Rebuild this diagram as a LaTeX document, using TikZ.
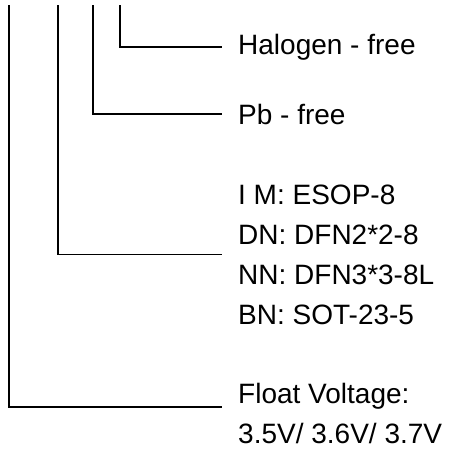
\documentclass[tikz,border=0pt]{standalone}
\usepackage{fontspec}
\setmainfont{Liberation Sans}
\usepackage{tikz}
\usetikzlibrary{positioning}

\tikzset{
    lead/.style={line width=1.6pt, shorten >=16pt},
    label/.style={anchor=base west, inner sep=0pt, align=left, font=\fontsize{28}{40}\selectfont}
}

\begin{document}
\begin{tikzpicture}[x=1pt, y=-1pt]
                        \useasboundingbox (0, 0) rectangle (454, 450);
                        \coordinate (t1) at (9, 5);
                        \coordinate (t2) at (58, 5);
                        \coordinate (t3) at (93, 5);
                        \coordinate (t4) at (120, 5);
                        \node[label] (halogen) at (238, 54) {Halogen - free};
                        \node[label] (pbfree) at (238, 124) {Pb - free};
                        \node[label] (pkg) at (238, 324) {I M: ESOP-8\\DN: DFN2*2-8\\NN: DFN3*3-8L\\BN: SOT-23-5};
                        \node[label] (volt) at (238, 443) {Float Voltage:\\3.5V/ 3.6V/ 3.7V};
                        \draw[lead] (t4) |- (halogen.west);
                        \draw[lead] (t3) |- (pbfree.west);
                        \draw[lead] (t2) |- (pkg.west);
                        \draw[lead] (t1) |- ([yshift=6pt]volt.west);
                    \end{tikzpicture}
\end{document}
